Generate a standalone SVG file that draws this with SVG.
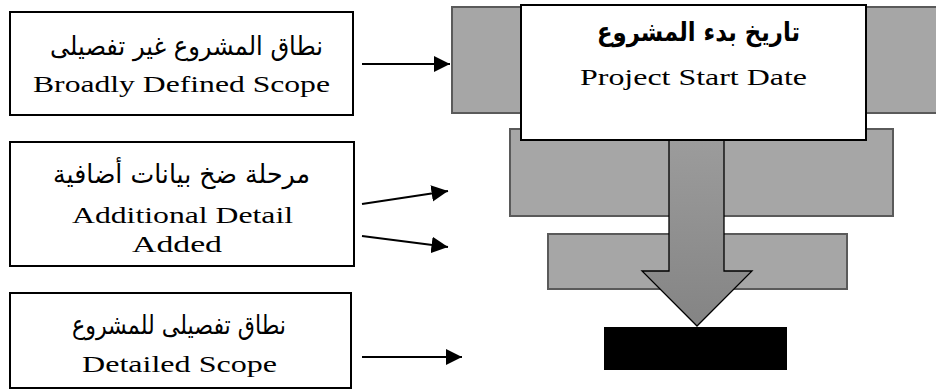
<svg xmlns="http://www.w3.org/2000/svg" width="936" height="389" viewBox="0 0 936 389">
<defs>
<style>
.box{fill:#fff;stroke:#000;stroke-width:2}
.gray{fill:#a6a6a6;stroke:#5a5a5a;stroke-width:2}
.en{font-family:"Liberation Serif","Times New Roman",serif;font-size:24px;fill:#000;text-anchor:middle}
.ar{font-family:"DejaVu Sans","Noto Sans",sans-serif;font-size:26px;fill:#000;text-anchor:middle}
.arb{font-family:"DejaVu Sans","Noto Sans",sans-serif;font-size:26px;font-weight:bold;fill:#000;text-anchor:middle}
.conn{stroke:#000;stroke-width:2.2;fill:none;marker-end:url(#ah)}
</style>
<marker id="ah" viewBox="0 0 10 10" refX="10" refY="5" markerWidth="7.5" markerHeight="7.5" markerUnits="strokeWidth" orient="auto">
<path d="M0,0 L10,5 L0,10 Z" fill="#000"/>
</marker>
<linearGradient id="ag" x1="0" y1="0" x2="0" y2="1">
<stop offset="0" stop-color="#9c9c9c"/>
<stop offset="1" stop-color="#848484"/>
</linearGradient>
</defs>

<g id="bar1"><rect class="gray" x="452" y="7" width="490" height="106"/></g>
<g id="bar2"><rect class="gray" x="510" y="129" width="383" height="87"/></g>
<g id="bar3"><rect class="gray" x="548" y="234" width="299" height="55"/></g>

<g id="flow-arrow"><path d="M669,138 L724,138 L724,271 L752,271 L697,326 L642,271 L669,271 Z" fill="url(#ag)" stroke="#000" stroke-width="1.3"/></g>

<g id="start-date">
<rect class="box" x="521" y="5" width="345" height="135"/>
<text class="arb" x="698.5" y="41" textLength="203" lengthAdjust="spacingAndGlyphs">تاريخ بدء المشروع</text>
<text class="en" x="693.5" y="85" textLength="227" lengthAdjust="spacingAndGlyphs">Project Start Date</text>
</g>

<g id="result"><rect x="604" y="327" width="183" height="43" fill="#000"/></g>

<g id="broad-scope">
<rect class="box" x="10" y="12" width="343" height="103"/>
<text class="ar" x="186.5" y="55" textLength="273" lengthAdjust="spacingAndGlyphs">نطاق المشروع غير تفصيلى</text>
<text class="en" x="181.5" y="92" textLength="297" lengthAdjust="spacingAndGlyphs">Broadly Defined Scope</text>
</g>

<g id="additional-detail">
<rect class="box" x="10" y="142" width="344" height="124"/>
<text class="ar" x="181.5" y="183" textLength="257" lengthAdjust="spacingAndGlyphs">مرحلة ضخ بيانات أضافية</text>
<text class="en" x="182.5" y="223" textLength="221" lengthAdjust="spacingAndGlyphs">Additional Detail</text>
<text class="en" x="177" y="252" textLength="90" lengthAdjust="spacingAndGlyphs">Added</text>
</g>

<g id="detailed-scope">
<rect class="box" x="10" y="293" width="341" height="95"/>
<text class="ar" x="179" y="334" textLength="214" lengthAdjust="spacingAndGlyphs">نطاق تفصيلى للمشروع</text>
<text class="en" x="179.5" y="372" textLength="195" lengthAdjust="spacingAndGlyphs">Detailed Scope</text>
</g>

<g id="connectors">
<line class="conn" x1="362" y1="64" x2="450" y2="64"/>
<line class="conn" x1="362" y1="204" x2="448" y2="191"/>
<line class="conn" x1="362" y1="236" x2="448" y2="247"/>
<line class="conn" x1="362" y1="357" x2="462" y2="357"/>
</g>
</svg>
